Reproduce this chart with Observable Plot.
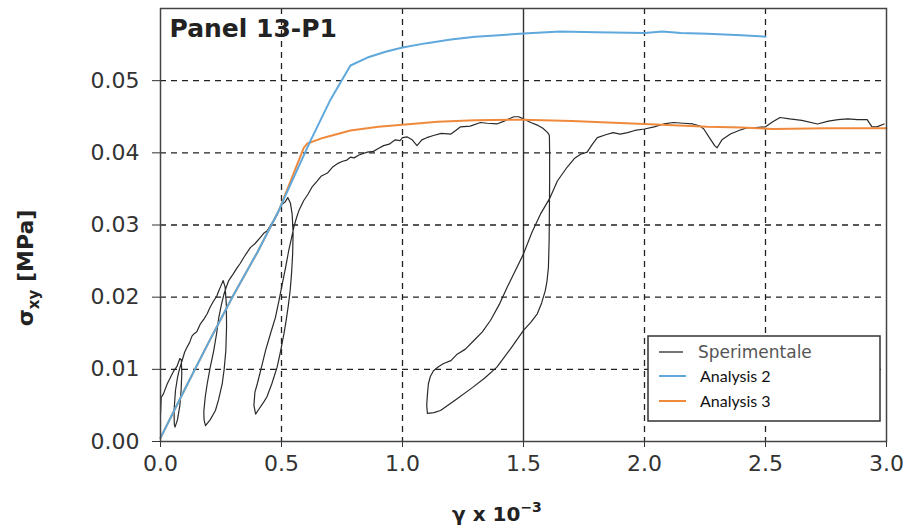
<!DOCTYPE html>
<html><head><meta charset="utf-8">
<script src="https://cdn.jsdelivr.net/npm/d3@7"></script>
<script src="https://cdn.jsdelivr.net/npm/@observablehq/plot@0.6"></script>
<style>body{margin:0;background:#fff} #chart{width:909px;height:528px}</style>
</head><body><div id="chart"></div>
<script>
const xTicks = [0, 0.5, 1, 1.5, 2, 2.5, 3];
const yTicks = [0, 0.01, 0.02, 0.03, 0.04, 0.05];
const seriesNames = ["Sperimentale", "Analysis 2", "Analysis 3"];

// Sperimentale (experimental, with unloading/reloading loops) — path order
const expX = [
  0.000,0.003,0.012,0.028,0.040,0.055,0.068,0.080,0.086,
  0.088,0.085,0.080,0.070,0.060,0.057,
  0.056,0.062,0.070,0.078,0.090,
  0.100,0.110,0.120,0.130,0.138,0.150,0.165,0.180,0.193,0.205,0.220,0.232,0.241,0.250,0.259,
  0.267,0.272,0.273,0.270,0.263,0.255,0.240,0.227,0.205,0.186,
  0.180,0.179,0.185,0.193,0.205,0.220,0.232,0.241,0.252,0.262,0.272,0.282,0.300,0.317,
  0.330,0.344,0.358,0.372,0.390,0.413,0.428,0.441,0.455,0.468,0.480,0.489,0.503,0.515,0.526,
  0.537,0.544,0.548,0.546,0.542,0.536,0.528,0.518,0.510,0.496,0.482,0.460,0.440,0.427,0.405,0.393,
  0.386,0.390,0.400,0.415,0.434,0.455,0.475,0.490,0.503,0.518,0.530,0.542,0.551,0.562,0.572,0.592,
  0.610,0.625,0.648,0.665,0.690,0.710,0.731,0.750,0.770,0.785,0.800,0.820,0.855,0.880,0.900,0.922,0.945,0.970,0.990,1.000,1.020,1.040,1.060,1.080,1.100,1.128,1.160,1.200,1.220,1.240,1.280,1.322,1.350,1.390,1.420,1.460,1.480,1.500,1.530,1.560,1.580,1.600,1.607,
  1.608,1.608,1.607,1.606,1.603,1.597,1.590,1.575,1.557,1.530,1.500,1.450,1.390,1.340,1.290,1.220,1.157,1.130,1.103,
  1.100,1.103,1.107,1.115,1.128,1.150,1.170,1.200,1.226,1.260,1.295,1.330,1.364,1.400,1.433,1.465,1.500,1.535,1.570,1.610,1.640,1.680,1.710,1.736,1.763,1.785,1.805,
  1.840,1.870,1.900,1.930,1.960,2.000,2.040,2.080,2.120,2.160,2.200,2.230,2.245,2.270,2.290,2.300,2.320,2.355,2.390,2.425,2.460,2.500,2.530,2.560,2.600,2.650,2.715,2.760,2.800,2.840,2.880,2.920,2.940,2.960,2.990
];
const expY = [
  0.0038,0.0061,0.0066,0.0080,0.0088,0.0098,0.0104,0.0115,0.0113,
  0.0094,0.0070,0.0050,0.0030,0.0020,0.0024,
  0.0043,0.0071,0.0088,0.0100,0.0113,
  0.0124,0.0131,0.0137,0.0146,0.0149,0.0152,0.0163,0.0170,0.0177,0.0186,0.0195,0.0201,0.0209,0.0216,0.0223,
  0.0214,0.0190,0.0160,0.0126,0.0100,0.0080,0.0058,0.0043,0.0030,0.0022,
  0.0030,0.0042,0.0062,0.0080,0.0102,0.0126,0.0150,0.0172,0.0190,0.0204,0.0214,0.0223,0.0232,0.0241,
  0.0247,0.0255,0.0262,0.0269,0.0274,0.0283,0.0289,0.0292,0.0300,0.0306,0.0313,0.0320,0.0329,0.0332,0.0338,
  0.0330,0.0315,0.0288,0.0260,0.0235,0.0210,0.0188,0.0165,0.0149,0.0125,0.0103,0.0080,0.0062,0.0055,0.0044,0.0038,
  0.0050,0.0068,0.0080,0.0100,0.0126,0.0150,0.0172,0.0196,0.0218,0.0243,0.0265,0.0283,0.0297,0.0310,0.0320,0.0334,
  0.0343,0.0352,0.0361,0.0368,0.0372,0.0380,0.0385,0.0388,0.0390,0.0394,0.0393,0.0397,0.0401,0.0402,0.0406,0.0410,0.0412,0.0418,0.0417,0.0421,0.0422,0.0418,0.0410,0.0418,0.0421,0.0424,0.0427,0.0426,0.0431,0.0436,0.0437,0.0442,0.0441,0.0440,0.0444,0.0450,0.0450,0.0447,0.0442,0.0438,0.0434,0.0428,0.0424,
  0.0400,0.0360,0.0320,0.0280,0.0241,0.0222,0.0209,0.0192,0.0177,0.0165,0.0154,0.0130,0.0103,0.0088,0.0075,0.0058,0.0043,0.0040,0.0039,
  0.0050,0.0065,0.0080,0.0090,0.0098,0.0104,0.0108,0.0112,0.0121,0.0128,0.0140,0.0152,0.0168,0.0190,0.0214,0.0236,0.0260,0.0290,0.0315,0.0338,0.0361,0.0380,0.0392,0.0398,0.0401,0.0412,0.0421,
  0.0425,0.0428,0.0426,0.0428,0.0431,0.0433,0.0436,0.0440,0.0442,0.0441,0.0440,0.0437,0.0433,0.0420,0.0410,0.0407,0.0418,0.0426,0.0431,0.0435,0.0435,0.0436,0.0443,0.0449,0.0447,0.0445,0.0440,0.0444,0.0446,0.0447,0.0446,0.0446,0.0436,0.0436,0.0440
];

// Analysis 2 (blue)
const a2X = [0, 0.1, 0.2, 0.3, 0.4, 0.489, 0.503, 0.56, 0.62, 0.70, 0.748, 0.785, 0.855, 0.93, 1.0, 1.1, 1.2, 1.3, 1.4, 1.5, 1.653, 1.8, 2.0, 2.074, 2.15, 2.26, 2.4, 2.5];
const a2Y = [0.0005, 0.0072, 0.0138, 0.0202, 0.0262, 0.0320, 0.0331, 0.0373, 0.0417, 0.0472, 0.0500, 0.0521, 0.0532, 0.0540, 0.0546, 0.0552, 0.0557, 0.0561, 0.0563, 0.05655, 0.0568, 0.0567, 0.0566, 0.0568, 0.0566, 0.0565, 0.0563, 0.0561];

// Analysis 3 (orange)
const a3X = [0, 0.1, 0.2, 0.3, 0.4, 0.489, 0.54, 0.592, 0.607, 0.674, 0.785, 0.9, 1.0, 1.145, 1.3, 1.5, 1.7, 1.847, 2.0, 2.26, 2.4, 2.53, 2.75, 3.0];
const a3Y = [0.0005, 0.0072, 0.0138, 0.0202, 0.0262, 0.0320, 0.0363, 0.0407, 0.0413, 0.0421, 0.0431, 0.0436, 0.0439, 0.0443, 0.0445, 0.0446, 0.0444, 0.0442, 0.0440, 0.0436, 0.0435, 0.0433, 0.0434, 0.0434];

const rows = (xs, ys) => xs.map((x, i) => ({x, y: ys[i]}));
const expRows = rows(expX, expY), a2Rows = rows(a2X, a2Y), a3Rows = rows(a3X, a3Y);
const colors = ["#2a2a2a", "#5fa8dc", "#ef8a3d"];
const gridStyle = {stroke: "#222", strokeWidth: 1.3, strokeDasharray: "6,5"};

const svg = Plot.plot({
  width: 909, height: 528,
  marginLeft: 160, marginRight: 23, marginTop: 8, marginBottom: 87,
  x: {domain: [0, 3]},
  y: {domain: [0, 0.06]},
  style: {fontFamily: "DejaVu Sans", fontSize: "22px", color: "#333", background: "#fff"},
  marks: [
    Plot.ruleX(xTicks.filter(d => d > 0 && d < 3 && d !== 1.5), gridStyle),
    Plot.ruleX([1.5], {stroke: "#333", strokeWidth: 1.4}),
    Plot.ruleY(yTicks.filter(d => d > 0), gridStyle),
    Plot.axisX({ticks: xTicks, tickFormat: d3.format(".1f"), tickSize: 6, tickPadding: 8, label: null, fontSize: 22}),
    Plot.axisY({ticks: yTicks, tickFormat: d3.format(".2f"), tickSize: 8, tickPadding: 13, label: null, fontSize: 22}),
    Plot.line(expRows, {x: "x", y: "y", stroke: colors[0], strokeWidth: 1.2}),
    Plot.line(a3Rows, {x: "x", y: "y", stroke: colors[2], strokeWidth: 2}),
    Plot.line(a2Rows, {x: "x", y: "y", stroke: colors[1], strokeWidth: 2}),
    Plot.frame({stroke: "#444", strokeWidth: 1.5}),
    Plot.text(["Panel 13-P1"], {frameAnchor: "top-left", dx: 9, dy: 11, textAnchor: "start", lineAnchor: "top", fontWeight: "bold", fontSize: 25, fill: "#222"})
  ]
});
document.getElementById("chart").appendChild(svg);

const s = d3.select(svg);
// y title with subscript
const yt = s.append("text").attr("transform", "translate(33,268) rotate(-90)")
  .attr("text-anchor", "middle").attr("font-family", "DejaVu Sans").attr("font-weight", "bold")
  .attr("font-size", 22).attr("fill", "#222");
yt.append("tspan").text("σ");
yt.append("tspan").attr("dy", 6).attr("font-size", 15).text("xy");
yt.append("tspan").attr("dy", -6).text(" [MPa]");
// x title with superscript
const xt = s.append("text").attr("x", 497).attr("y", 521)
  .attr("text-anchor", "middle").attr("font-family", "DejaVu Sans").attr("font-weight", "bold")
  .attr("font-size", 20).attr("fill", "#222");
xt.append("tspan").text("γ x 10");
xt.append("tspan").attr("dy", -9).attr("font-size", 14).text("−3");

// legend
const lg = s.append("g").attr("text-anchor", "start");
lg.append("rect").attr("x", 648).attr("y", 336).attr("width", 232).attr("height", 85)
  .attr("fill", "#fff").attr("stroke", "#333").attr("stroke-width", 1.5);
const ly = [352, 376, 401];
const lfont = [{f: "DejaVu Sans", s: 17, c: "#555"}, {f: "Lato", s: 16, c: "#111"}, {f: "Lato", s: 16, c: "#111"}];
seriesNames.forEach((n, i) => {
  lg.append("line").attr("x1", 659).attr("x2", i === 0 ? 683 : 686).attr("y1", ly[i]).attr("y2", ly[i])
    .attr("stroke", colors[i]).attr("stroke-width", i === 0 ? 1.3 : 2);
  lg.append("text").attr("x", i === 0 ? 698 : 700).attr("y", ly[i]).attr("dy", "0.35em")
    .attr("text-anchor", "start")
    .attr("font-family", lfont[i].f).attr("font-size", lfont[i].s).attr("fill", lfont[i].c).text(n);
});
</script></body></html>
